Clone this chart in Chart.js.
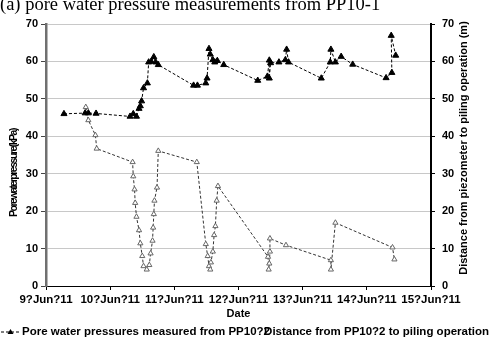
<!DOCTYPE html>
<html>
<head>
<meta charset="utf-8">
<script src="https://cdn.jsdelivr.net/npm/chart.js@4/dist/chart.umd.min.js"></script>
<style>
  body { margin: 0; background: #fff; }
  #wrap { position: relative; width: 491px; height: 341px; overflow: hidden; }
  #title {
    position: absolute; left: 0; top: -5px; white-space: nowrap;
    font: 18.5px 'Liberation Serif', 'Times New Roman', serif; line-height: 18.5px; color: #000;
  }
</style>
</head>
<body>
<div id="wrap">
  <canvas id="chart" width="491" height="341"></canvas>
  <div id="title">(a) pore water pressure measurements from PP10-1</div>
</div>
<script>
// x ticks: one per day
const dayTicks = ["9?Jun?11", "10?Jun?11", "11?Jun?11", "12?Jun?11", "13?Jun?11", "14?Jun?11", "15?Jun?11"];

// pore water pressure (kPa), time in days of June
const ppDays = [9.28, 9.61, 9.66, 9.78, 10.31, 10.36, 10.41, 10.45, 10.47, 10.49, 10.52, 10.58,
  10.60, 10.64, 10.68, 10.71, 10.75, 11.30, 11.36, 11.49, 11.51, 11.54, 11.56, 11.60, 11.63,
  11.67, 11.77, 12.30, 12.45, 12.48, 12.48, 12.50, 12.63, 12.73, 12.75, 12.78, 13.29, 13.43,
  13.44, 13.51, 13.60, 13.78, 14.30, 14.39, 14.38, 14.45];
const ppValues = [46.0, 46.2, 46.2, 46.1, 45.3, 46.0, 45.3, 47.4, 48.1, 49.4, 52.9, 54.2,
  59.8, 60.0, 61.2, 59.8, 59.1, 53.6, 53.6, 54.2, 55.5, 63.4, 61.9, 60.4, 59.8,
  60.2, 59.1, 54.9, 56.0, 60.3, 55.5, 59.6, 59.8, 60.4, 63.2, 59.8, 55.5, 59.8,
  63.2, 59.8, 61.3, 59.2, 55.6, 57.0, 66.9, 61.6];

// distance from piezometer to piling (m)
const distDays = [9.62, 9.66, 9.77, 9.79, 10.35, 10.36, 10.38, 10.39, 10.41, 10.45, 10.47, 10.50,
  10.52, 10.57, 10.61, 10.63, 10.66, 10.67, 10.68, 10.69, 10.73, 10.75, 11.35, 11.49, 11.52,
  11.54, 11.56, 11.57, 11.60, 11.62, 11.64, 11.66, 11.68, 12.46, 12.47, 12.48, 12.49, 12.49,
  12.74, 13.44, 13.44, 13.51, 14.40, 14.43];
const distValues = [47.8, 44.3, 40.3, 36.7, 33.1, 29.3, 25.8, 22.2, 18.5, 14.9, 11.4, 8.0,
  5.3, 4.4, 5.6, 8.7, 12.1, 15.6, 19.2, 22.8, 26.3, 36.1, 33.1, 11.2, 8.0,
  5.3, 4.4, 6.3, 9.2, 13.6, 16.0, 22.8, 26.7, 7.8, 4.4, 6.0, 9.2, 12.7,
  10.9, 6.9, 4.4, 16.9, 10.3, 7.1];

const seriesNames = ["Pore water pressures measured from PP10?2", "Distance from PP10?2 to piling operation"];
const leftTitle = "Porewaterpressure(kPa)";
const rightTitle = "Distance from piezometer to piling operation (m)";

const FONT = "'Liberation Sans', Arial, sans-serif";
Chart.defaults.font.family = FONT;
Chart.defaults.color = "#000";

const toPoints = (xs, ys) => xs.map((x, i) => ({ x, y: ys[i] }));

// axis titles that Excel drew bottom-to-top on both sides + overlapping legend
const overlayText = {
  id: "overlayText",
  afterDraw(chart) {
    const ctx = chart.ctx;
    ctx.save();
    ctx.fillStyle = "#000";
    ctx.textBaseline = "middle";

    ctx.save();
    ctx.font = "bold 10.5px " + FONT;
    ctx.letterSpacing = "-1.5px";
    ctx.translate(14, 173);
    ctx.rotate(-Math.PI / 2);
    ctx.textAlign = "center";
    ctx.fillText(leftTitle, 0, 0);
    ctx.restore();

    ctx.save();
    ctx.font = "bold 11px " + FONT;
    ctx.translate(464, 148);
    ctx.rotate(-Math.PI / 2);
    ctx.textAlign = "center";
    ctx.fillText(rightTitle, 0, 0);
    ctx.restore();

    // legend
    const ly = 332;
    ctx.strokeStyle = "#000";
    ctx.lineWidth = 1;
    ctx.setLineDash([3, 2]);
    ctx.beginPath();
    ctx.moveTo(1, ly);
    ctx.lineTo(20, ly);
    ctx.stroke();
    ctx.setLineDash([]);
    ctx.beginPath();
    ctx.moveTo(10.5, ly - 3);
    ctx.lineTo(13.5, ly + 2);
    ctx.lineTo(7.5, ly + 2);
    ctx.closePath();
    ctx.fill();

    ctx.font = "bold 11.5px " + FONT;
    ctx.textAlign = "left";
    ctx.fillText(seriesNames[0], 22, ly);
    ctx.textAlign = "right";
    ctx.fillText(seriesNames[1], 489, ly);
    ctx.restore();
  }
};

new Chart(document.getElementById("chart"), {
  type: "line",
  data: {
    datasets: [
      {
        label: seriesNames[0],
        data: toPoints(ppDays, ppValues),
        yAxisID: "y",
        borderColor: "#000",
        borderWidth: 1,
        borderDash: [3, 2],
        pointStyle: "triangle",
        pointRadius: 3.5,
        pointBackgroundColor: "#000",
        pointBorderColor: "#000",
        pointBorderWidth: 1,
        tension: 0
      },
      {
        label: seriesNames[1],
        data: toPoints(distDays, distValues),
        yAxisID: "y2",
        borderColor: "#333",
        borderWidth: 1,
        borderDash: [3, 2],
        pointStyle: "triangle",
        pointRadius: 3,
        pointBackgroundColor: "#fff",
        pointBorderColor: "#666",
        pointBorderWidth: 1,
        tension: 0
      }
    ]
  },
  options: {
    responsive: false,
    animation: false,
    layout: { padding: { top: 24, bottom: 19, left: 0, right: 0 } },
    plugins: {
      legend: { display: false },
      tooltip: { enabled: false }
    },
    scales: {
      x: {
        type: "linear",
        min: 9,
        max: 15,
        afterFit(scale) { scale.height = 36; },
        ticks: {
          stepSize: 1,
          autoSkip: false,
          maxRotation: 0,
          padding: 3,
          font: { size: 11.5, weight: "bold" },
          callback: (v) => dayTicks[v - 9]
        },
        grid: { drawOnChartArea: false, tickLength: 4, tickColor: "#000" },
        border: { color: "#000", width: 1 },
        title: {
          display: true,
          text: "Date",
          font: { size: 11, weight: "bold" },
          padding: { top: 0, bottom: 1 }
        }
      },
      y: {
        position: "left",
        min: 0,
        max: 70,
        afterFit(scale) { scale.width = 46; },
        ticks: { stepSize: 10, padding: 3, font: { size: 11, weight: "bold" } },
        grid: { color: "#c8c8c8", tickLength: 5, tickColor: "#444" },
        border: { color: "#707070", width: 2.5 }
      },
      y2: {
        position: "right",
        min: 0,
        max: 70,
        afterFit(scale) { scale.width = 60; },
        ticks: { stepSize: 10, padding: 7, font: { size: 11, weight: "bold" } },
        grid: { drawOnChartArea: false, tickLength: 4, tickColor: "#000" },
        border: { color: "#000", width: 2 }
      }
    }
  },
  plugins: [overlayText]
});
</script>
</body>
</html>
